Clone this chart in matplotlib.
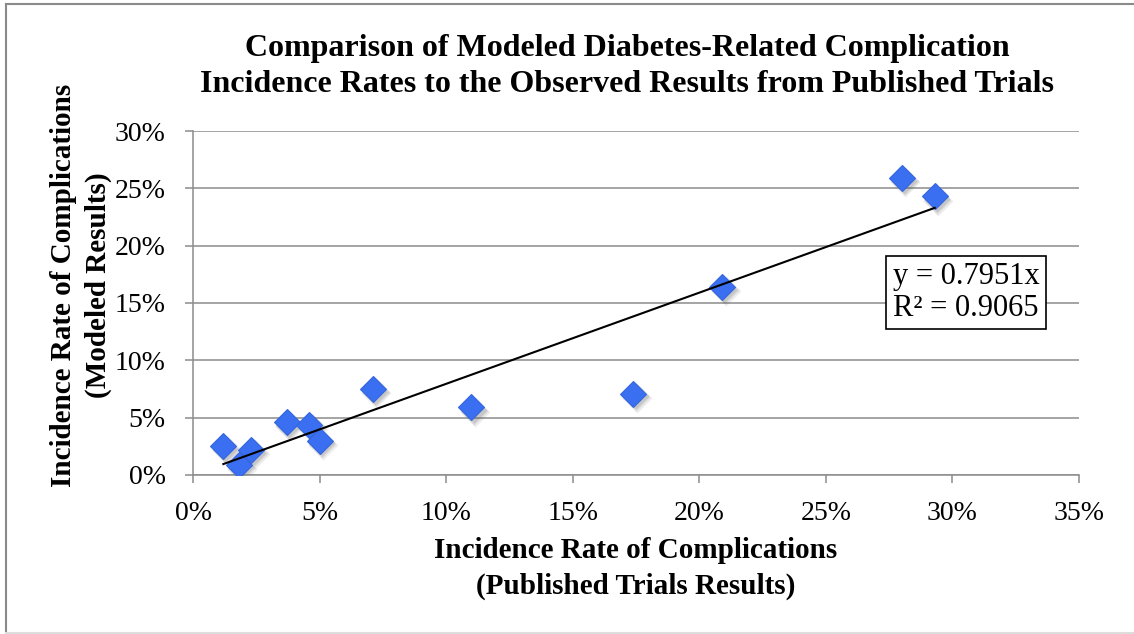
import matplotlib
matplotlib.use("Agg")
import matplotlib.pyplot as plt
from matplotlib.ticker import FuncFormatter
from matplotlib.lines import Line2D
from matplotlib.transforms import offset_copy

# Data (percent)
published = [1.2, 1.8, 2.3, 3.7, 4.6, 5.0, 7.1, 11.0, 17.4, 20.9, 28.0, 29.3]
modeled = [2.5, 0.9, 2.2, 4.6, 4.4, 3.0, 7.5, 5.9, 7.1, 16.4, 25.9, 24.3]
slope = 0.7951
r_squared = 0.9065
x_ticks = [0, 5, 10, 15, 20, 25, 30, 35]
y_ticks = [0, 5, 10, 15, 20, 25, 30]
title_text = ("Comparison of Modeled Diabetes-Related Complication\n"
              "Incidence Rates to the Observed Results from Published Trials")
xlabel_text = "Incidence Rate of Complications\n(Published Trials Results)"
ylabel_text = "Incidence Rate of Complications\n(Modeled Results)"

W, H = 1134, 634
fig = plt.figure(figsize=(W / 100, H / 100), dpi=100)
serif = "Liberation Serif"

# outer border
fig.add_artist(Line2D([6 / W, 6 / W], [1 - 4 / H, 1 - 633 / H], color="#8a8a8a", lw=1.5, transform=fig.transFigure))
fig.add_artist(Line2D([6 / W, 1], [1 - 4 / H, 1 - 4 / H], color="#8a8a8a", lw=1.5, transform=fig.transFigure))
fig.add_artist(Line2D([6 / W, 1], [1 - 633 / H, 1 - 633 / H], color="#dddddd", lw=1.5, transform=fig.transFigure))

ax = fig.add_axes([193 / W, 1 - 475 / H, (1079 - 193) / W, (475 - 131) / H])
ax.set_xlim(x_ticks[0], x_ticks[-1])
ax.set_ylim(y_ticks[0], y_ticks[-1])
ax.set_xticks(x_ticks)
ax.set_yticks(y_ticks)
fmt = FuncFormatter(lambda v, p: f"{v:.0f}%")
ax.xaxis.set_major_formatter(fmt)
ax.yaxis.set_major_formatter(fmt)

grid_c = "#8c8c8c"
ax.grid(axis="y", color=grid_c, lw=1.1)
ax.set_axisbelow(True)
for s in ["top", "right"]:
    ax.spines[s].set_visible(False)
for s in ["left", "bottom"]:
    ax.spines[s].set_color(grid_c)
    ax.spines[s].set_linewidth(1.1)
ax.tick_params(axis="both", direction="out", length=5.8, width=1.1, color=grid_c,
               labelsize=20, labelcolor="black")
ax.tick_params(axis="x", pad=13)
ax.tick_params(axis="y", pad=14)
for lab in ax.get_xticklabels() + ax.get_yticklabels():
    lab.set_fontfamily(serif)

# shadows
for dx, dy, a, ms in [(2.5, -3.0, 0.10, 15.5), (2.0, -2.5, 0.12, 14.0), (1.5, -2.0, 0.15, 13.0)]:
    tr = offset_copy(ax.transData, fig=fig, x=dx, y=dy, units="points")
    ax.plot(published, modeled, linestyle="none", marker="D", ms=ms, mfc="#555555",
            mec="none", alpha=a, transform=tr, zorder=2)

# trendline
x_line = [min(published), max(published)]
y_line = [slope * v for v in x_line]
ax.plot(x_line, y_line, color="black", lw=1.5, zorder=4)

ax.plot(published, modeled, linestyle="none", marker="D", ms=12.8, mfc="#3b6ff2",
        mec="#3566dc", mew=0.8, zorder=3)

# equation box
fig.text(966 / W, 1 - 292.5 / H, f"y = {slope:.4f}x\nR² = {r_squared:.4f}",
         ha="center", va="center", multialignment="left", fontsize=22,
         fontfamily=serif, linespacing=1.1,
         bbox=dict(boxstyle="square,pad=0.22", fc="white", ec="black", lw=1.2))

fig.text(627 / W, 1 - 66.5 / H, title_text, ha="center", va="center",
         fontsize=23, fontweight="bold", fontfamily=serif, linespacing=1.3)
fig.text(636 / W, 1 - 568.5 / H, xlabel_text, ha="center", va="center",
         fontsize=21, fontweight="bold", fontfamily=serif, linespacing=1.38)
fig.text(81 / W, 1 - 285 / H, ylabel_text, ha="center", va="center", rotation=90,
         fontsize=21, fontweight="bold", fontfamily=serif, linespacing=1.35)

fig.savefig("out.png", dpi=100)
